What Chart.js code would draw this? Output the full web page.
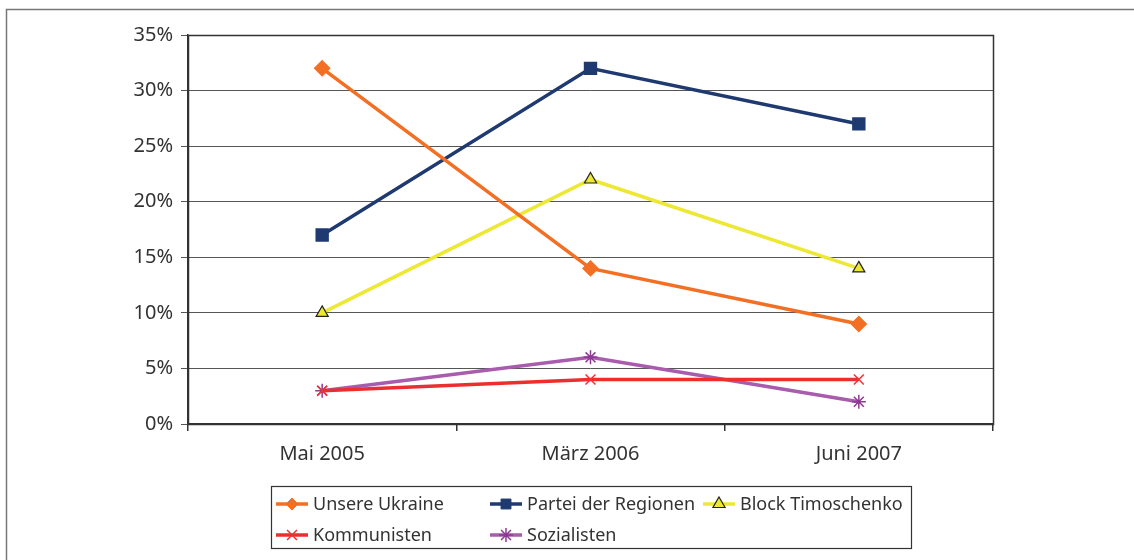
<!DOCTYPE html>
<html><head><meta charset="utf-8">
<script src="https://cdn.jsdelivr.net/npm/chart.js@4.4.1/dist/chart.umd.min.js"></script>
<style>html,body{margin:0;padding:0;background:#fff}#wrap{width:1134px;height:560px}</style>
</head><body><div id="wrap"><canvas id="c" width="1134" height="560"></canvas></div>
<script>
const categories = ["Mai 2005", "März 2006", "Juni 2007"];
const unsereUkraine = [32, 14, 9];
const parteiRegionen = [17, 32, 27];
const blockTimoschenko = [10, 22, 14];
const kommunisten = [3, 4, 4];
const sozialisten = [3, 6, 2];
const seriesNames = ["Unsere Ukraine", "Partei der Regionen", "Block Timoschenko", "Kommunisten", "Sozialisten"];

const FONT = "'Noto Sans', sans-serif";
const TXT = '#333333';

const datasets = [
  {label: seriesNames[0], data: unsereUkraine, borderColor:'#F26F23', backgroundColor:'#F26F23', pointStyle:'rectRot', pointRadius:6, pointBorderColor:'#F26F23'},
  {label: seriesNames[1], data: parteiRegionen, borderColor:'#1F3A70', backgroundColor:'#1F3A70', pointStyle:'rect', pointRadius:7, pointBorderColor:'#1F3A70'},
  {label: seriesNames[2], data: blockTimoschenko, borderColor:'#EDE834', backgroundColor:'#EDE834', pointStyle:'triangle', pointRadius:7, pointBorderColor:'#222222', pointBorderWidth:1.2},
  {label: seriesNames[3], data: kommunisten, borderColor:'#EE2E2E', backgroundColor:'#EE2E2E', pointStyle:'crossRot', pointRadius:7, pointBorderColor:'#EE3333', pointBorderWidth:1.5},
  {label: seriesNames[4], data: sozialisten, borderColor:'#A95BAD', backgroundColor:'#A95BAD', pointStyle:'star', pointRadius:7, pointBorderColor:'#8E3A94', pointBorderWidth:1.5}
].map(d => Object.assign({borderWidth:3.5, tension:0, pointHoverRadius:d.pointRadius}, d));

function drawMarker(ctx, ds, x, y){
  const opts = {pointStyle: ds.pointStyle, radius: ds.pointRadius, borderWidth: ds.pointBorderWidth || 1, rotation:0};
  ctx.save();
  ctx.fillStyle = ds.backgroundColor;
  ctx.strokeStyle = ds.pointBorderColor;
  ctx.lineWidth = opts.borderWidth;
  Chart.helpers.drawPoint(ctx, opts, x, y);
  ctx.restore();
}

const framePlugin = {
  id:'frame',
  beforeDraw(chart){
    const ctx = chart.ctx;
    ctx.save();
    ctx.strokeStyle = '#777777'; ctx.lineWidth = 1.5;
    ctx.strokeRect(6.5, 9.5, 1200, 600);
    ctx.restore();
  },
  afterDraw(chart){
    const ctx = chart.ctx, a = chart.chartArea;
    ctx.save();
    ctx.strokeStyle = '#333333'; ctx.lineWidth = 1.5;
    ctx.strokeRect(Math.round(a.left)+0.5, Math.round(a.top)+0.5, Math.round(a.right-a.left), Math.round(a.bottom-a.top));
    // legend
    ctx.strokeStyle = '#333333'; ctx.lineWidth = 1.2;
    ctx.strokeRect(271.5, 486.5, 640, 62);
    const pos = [[276,504],[490,504],[703,504],[276,535],[490,535]];
    ctx.font = "18px " + FONT; ctx.fillStyle = TXT; ctx.textBaseline = 'middle'; ctx.textAlign='left';
    chart.data.datasets.forEach((ds,i)=>{
      const [x,y] = pos[i];
      ctx.save();
      ctx.strokeStyle = ds.borderColor; ctx.lineWidth = 3.5;
      ctx.beginPath(); ctx.moveTo(x,y); ctx.lineTo(x+32,y); ctx.stroke();
      ctx.restore();
      drawMarker(ctx, ds, x+16, y);
      ctx.fillStyle = TXT;
      ctx.fillText(ds.label, x+37, y+1);
    });
    ctx.restore();
  }
};

new Chart(document.getElementById('c'), {
  type:'line',
  data:{labels: categories, datasets},
  options:{
    responsive:false, animation:false, devicePixelRatio:1,
    layout:{padding:{top:35, right:141, left:0, bottom:0}},
    plugins:{legend:{display:false}, tooltip:{enabled:false}},
    scales:{
      x:{
        offset:true,
        grid:{offset:true, drawOnChartArea:false, drawTicks:true, tickLength:7, color:'#333333', lineWidth:1.5},
        border:{display:true, color:'#333333', width:1.5},
        ticks:{color:TXT, font:{family:FONT, size:20}, padding:11, maxRotation:0},
        afterFit(s){ s.height = 136; }
      },
      y:{
        min:0, max:35,
        grid:{color:'#555555', lineWidth:1, drawTicks:true, tickLength:7},
        border:{display:true, color:'#333333', width:1.5},
        ticks:{stepSize:5, color:TXT, font:{family:FONT, size:20}, padding:8, callback:v=>v+'%'},
        afterFit(s){ s.width = 188; }
      }
    }
  },
  plugins:[framePlugin]
});
</script></body></html>
